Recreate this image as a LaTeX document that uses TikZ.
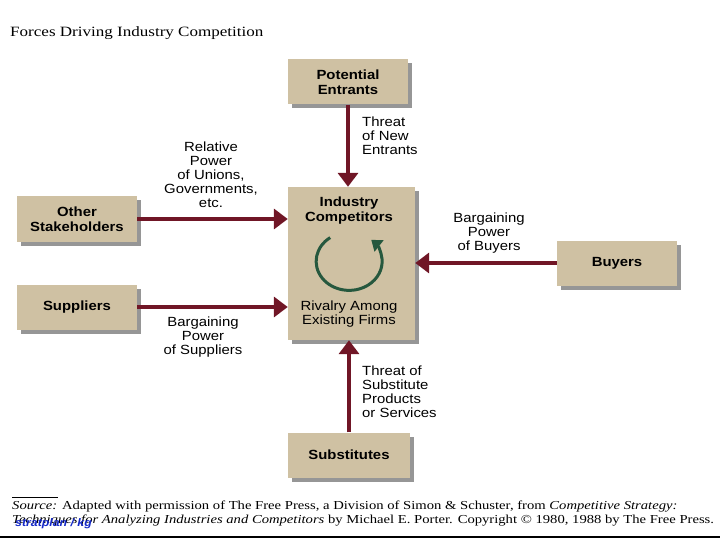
\documentclass[tikz,border=0pt]{standalone}
\usepackage{fontspec}
\setmainfont{Liberation Serif}[FakeStretch=1.2]
\setsansfont{Liberation Sans}[FakeStretch=1.12]
\usetikzlibrary{arrows.meta,shadows}
\definecolor{boxtan}{RGB}{207,193,163}
\definecolor{forcered}{RGB}{112,22,38}
\definecolor{rivalgreen}{RGB}{38,88,62}
\definecolor{signblue}{RGB}{20,40,200}

\begin{document}
\begin{tikzpicture}[x=1pt,y=1pt,
  force/.style={fill=boxtan,drop shadow={shadow xshift=4pt,shadow yshift=-4pt,fill=black!75,opacity=.55},
    font=\sffamily\bfseries\fontsize{13.3}{15}\selectfont,align=center,
    minimum width=120pt,minimum height=45pt,inner sep=0pt},
  lbl/.style={font=\sffamily\fontsize{13.3}{14}\selectfont,align=center,inner sep=0pt},
  push/.style={draw=forcered,line width=4pt,-{Triangle[width=20pt,length=14pt]}}]
  \useasboundingbox (0,0) rectangle (720,-540);
  \node[anchor=west,font=\fontsize{14.2}{16}\selectfont,inner sep=0pt] (title) at (10,-33)
    {Forces Driving Industry Competition};
  % the five forces
  \node[force] (entrants) at (348,-82) {Potential\\Entrants};
  \node[force,minimum width=127pt,minimum height=153pt] (rivals) at (351.5,-263.5) {};
  \node[force] (others) at (77,-219) {Other\\Stakeholders};
  \node[force] (suppliers) at (77,-307) {Suppliers};
  \node[force] (buyers) at (617,-263) {Buyers};
  \node[force,minimum width=122pt] (substitutes) at (349,-455) {Substitutes};
  % inside the centre box
  \node[lbl,font=\sffamily\bfseries\fontsize{13.3}{15}\selectfont] (rivaltitle) at (349,-211) {Industry\\Competitors};
  \node[lbl] (rivaltext) at (349,-314) {Rivalry Among\\Existing Firms};
  \draw[rivalgreen,line width=3pt,-{Triangle[width=14pt,length=10pt]}]
    ([shift={(125:31)}]348,-263) arc[start angle=125,end angle=408,x radius=33,y radius=29];
  % connectors
  \draw[push] (entrants.south) -- (entrants.south |- rivals.north);
  \draw[push] (others.east) -- (others.east -| rivals.west);
  \draw[push] (suppliers.east) -- (suppliers.east -| rivals.west);
  \draw[push] (buyers.west) -- (buyers.west -| rivals.east);
  \draw[push] (substitutes.north) -- (substitutes.north |- rivals.south);
  % labels
  \node[lbl,align=left,anchor=west] (newthreat) at (362,-136) {Threat\\of New\\Entrants};
  \node[lbl] (unions) at (211,-175) {Relative\\Power\\of Unions,\\Governments,\\etc.};
  \node[lbl] (suppower) at (203,-337) {Bargaining\\Power\\of Suppliers};
  \node[lbl] (buypower) at (489,-233) {Bargaining\\Power\\of Buyers};
  \node[lbl,align=left,anchor=west] (subthreat) at (362,-392) {Threat of\\Substitute\\Products\\or Services};
  % footer
  \draw[line width=1pt] (12,-497) coordinate (rulea) -- (58,-497) coordinate (ruleb);
  \node[anchor=north west,align=left,inner sep=0pt,font=\fontsize{12.2}{14}\selectfont] (source) at (12,-501)
    {\textit{Source:} Adapted with permission of The Free Press, a Division of Simon \& Schuster, from \textit{Competitive Strategy:}\\
     \textit{Techniques for Analyzing Industries and Competitors} by Michael E. Porter. Copyright \textcopyright\ 1980, 1988 by The Free Press.};
  \node[anchor=west,inner sep=0pt,text=signblue,font=\sffamily\bfseries\itshape\fontsize{11}{11}\selectfont] (sign) at (15,-524) {stratplan / kg};
  \draw[line width=2pt] (0,-537) coordinate (basea) -- (720,-537) coordinate (baseb);
\end{tikzpicture}
\end{document}
